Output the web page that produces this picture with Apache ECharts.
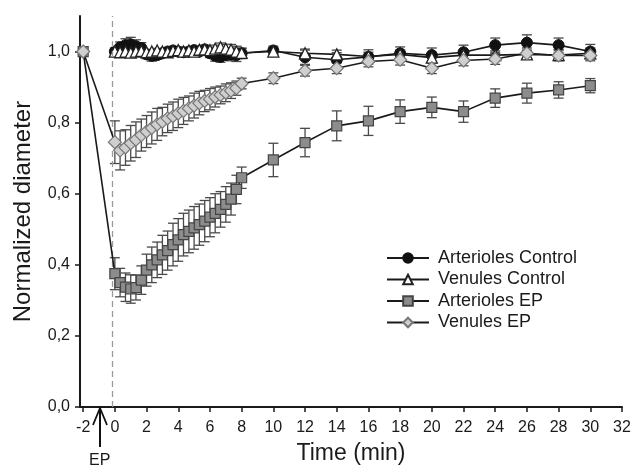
<!DOCTYPE html>
<html>
<head>
<meta charset="utf-8">
<script src="https://cdn.jsdelivr.net/npm/echarts@6/dist/echarts.min.js"></script>
<style>
html,body{margin:0;padding:0;background:#fff;}
#chart{width:634px;height:471px;}
</style>
</head>
<body>
<div id="chart"></div>
<script>
// ---- data ----
const times = [0,0.33,0.67,1,1.33,1.67,2,2.33,2.67,3,3.33,3.67,4,4.33,4.67,5,5.33,5.67,6,6.33,6.67,7,7.33,7.67,8,10,12,14,16,18,20,22,24,26,28,30];
const baselineTime = -2;
const baselineValue = 1.0;

const arteriolesControl = [1.0,1.012,1.018,1.02,1.015,1.01,0.992,0.988,0.99,0.995,1.0,1.003,1.0,0.998,1.0,1.004,1.0,1.006,0.995,0.988,0.985,0.99,0.992,0.99,0.995,1.003,0.984,0.977,0.985,0.995,0.99,0.998,1.018,1.025,1.018,1.0];
const arteriolesControlErr = [0.01,0.015,0.018,0.02,0.018,0.015,0.012,0.015,0.012,0.01,0.01,0.01,0.012,0.01,0.01,0.01,0.01,0.012,0.012,0.015,0.015,0.012,0.018,0.018,0.015,0.012,0.02,0.02,0.02,0.018,0.02,0.02,0.02,0.022,0.02,0.02];

const venulesControl = [1.0,0.998,1.0,0.997,1.0,1.002,0.998,1.0,1.003,1.0,0.998,1.002,1.004,1.0,1.003,1.0,1.005,1.006,1.004,1.008,1.012,1.008,1.005,1.0,0.996,1.0,0.995,0.992,0.986,0.992,0.983,0.99,0.99,0.992,0.99,0.995];
const venulesControlErr = [0.006,0.006,0.006,0.006,0.006,0.006,0.006,0.006,0.006,0.006,0.006,0.007,0.007,0.007,0.007,0.008,0.008,0.008,0.008,0.01,0.012,0.012,0.015,0.015,0.012,0.01,0.012,0.012,0.012,0.012,0.012,0.012,0.012,0.012,0.015,0.015];

const arteriolesEP = [0.375,0.35,0.337,0.332,0.336,0.357,0.385,0.4,0.414,0.428,0.44,0.457,0.47,0.485,0.494,0.504,0.513,0.523,0.534,0.545,0.556,0.57,0.585,0.612,0.645,0.695,0.744,0.791,0.805,0.831,0.843,0.831,0.869,0.883,0.892,0.904];
const arteriolesEPErr = [0.045,0.04,0.04,0.04,0.035,0.04,0.045,0.05,0.05,0.055,0.055,0.06,0.06,0.06,0.06,0.06,0.058,0.058,0.055,0.055,0.05,0.05,0.045,0.04,0.03,0.047,0.04,0.042,0.041,0.033,0.029,0.03,0.026,0.028,0.023,0.02];

const venulesEP = [0.745,0.722,0.73,0.742,0.752,0.765,0.775,0.785,0.795,0.803,0.812,0.818,0.826,0.833,0.84,0.848,0.855,0.861,0.866,0.872,0.878,0.884,0.89,0.897,0.91,0.925,0.946,0.953,0.972,0.977,0.953,0.975,0.979,0.995,0.989,0.989];
const venulesEPErr = [0.06,0.055,0.05,0.05,0.05,0.045,0.045,0.045,0.045,0.04,0.04,0.04,0.04,0.038,0.035,0.035,0.033,0.03,0.03,0.028,0.025,0.025,0.022,0.02,0.015,0.015,0.015,0.015,0.015,0.015,0.015,0.015,0.015,0.015,0.015,0.015];

const xTicks = [-2,0,2,4,6,8,10,12,14,16,18,20,22,24,26,28,30,32];
const yTicks = [0,0.2,0.4,0.6,0.8,1.0];
const epLineTime = -0.15;

// ---- helpers ----
function pairs(vals, withBaseline){
  const d = times.map((t,i)=>[t, vals[i]]);
  if (withBaseline) d.unshift([baselineTime, baselineValue]);
  return d;
}
function errData(vals, errs){
  return times.map((t,i)=>[t, vals[i]-errs[i], vals[i]+errs[i]]);
}
function errSeries(vals, errs){
  return {
    type:'custom', silent:true, z:1,
    data: errData(vals, errs),
    encode:{x:0, y:[1,2]},
    renderItem: function(params, api){
      const x = api.value(0), lo = api.value(1), hi = api.value(2);
      const top = api.coord([x, hi]), bot = api.coord([x, lo]);
      const w = 5;
      const st = {stroke:'#4a4a4a', lineWidth:1.3};
      return {type:'group', children:[
        {type:'line', shape:{x1:top[0],y1:top[1],x2:bot[0],y2:bot[1]}, style:st},
        {type:'line', shape:{x1:top[0]-w,y1:top[1],x2:top[0]+w,y2:top[1]}, style:st},
        {type:'line', shape:{x1:bot[0]-w,y1:bot[1],x2:bot[0]+w,y2:bot[1]}, style:st}
      ]};
    }
  };
}
const fmt = v => v.toFixed(1).replace('.', ',');
const font = 'Liberation Sans, Arial, sans-serif';

const chart = echarts.init(document.getElementById('chart'), null, {renderer:'canvas'});
chart.setOption({
  animation:false,
  backgroundColor:'#fff',
  textStyle:{fontFamily:font},
  grid:{left:80, right:12, top:16, bottom:64, containLabel:false},
  legend:{
    orient:'vertical', left:381, top:244,
    itemWidth:42, itemHeight:12, itemGap:3.5,
    textStyle:{fontSize:18, lineHeight:18, color:'#1a1a1a', fontFamily:font, padding:[0,0,0,4]},
    data:['Arterioles Control','Venules Control','Arterioles EP','Venules EP']
  },
  xAxis:{
    type:'value', min:-2.2, max:32,
    name:'Time (min)', nameLocation:'middle', nameGap:35,
    nameTextStyle:{fontSize:23, color:'#1a1a1a', fontFamily:font},
    axisLine:{onZero:false, lineStyle:{color:'#1a1a1a', width:2}},
    axisTick:{show:true, length:5, inside:false, customValues:xTicks, lineStyle:{color:'#1a1a1a', width:1.5}},
    axisLabel:{customValues:xTicks, fontSize:16, color:'#1a1a1a', margin:13, fontFamily:font},
    splitLine:{show:false}
  },
  yAxis:{
    type:'value', min:0, max:1.1,
    name:'Normalized diameter', nameLocation:'middle', nameGap:45,
    nameTextStyle:{fontSize:24, color:'#1a1a1a', fontFamily:font},
    axisLine:{onZero:false, lineStyle:{color:'#1a1a1a', width:2}},
    axisTick:{show:true, length:5, inside:false, customValues:yTicks, lineStyle:{color:'#1a1a1a', width:1.5}},
    axisLabel:{customValues:yTicks, formatter:fmt, fontSize:16, color:'#1a1a1a', margin:10, fontFamily:font},
    splitLine:{show:false}
  },
  graphic:[
    {type:'polyline', shape:{points:[[93,425],[100,408],[107,425]]}, style:{stroke:'#111', lineWidth:1.8, fill:null}, z:100},
    {type:'line', shape:{x1:100,y1:409,x2:100,y2:447}, style:{stroke:'#111', lineWidth:2}, z:100},
    {type:'text', left:89, top:453, style:{text:'EP', fontSize:16, fill:'#1a1a1a', fontFamily:font}, z:100}
  ],
  series:[
    errSeries(arteriolesControl, arteriolesControlErr),
    errSeries(venulesControl, venulesControlErr),
    errSeries(arteriolesEP, arteriolesEPErr),
    errSeries(venulesEP, venulesEPErr),
    {
      name:'Arterioles Control', type:'line', z:3,
      data:pairs(arteriolesControl,false),
      symbol:'circle', symbolSize:11,
      lineStyle:{color:'#1a1a1a', width:1.6},
      itemStyle:{color:'#111', borderColor:'#111', borderWidth:1},
      markLine:{
        silent:true, symbol:'none', label:{show:false},
        lineStyle:{type:[6,4], color:'#9a9a9a', width:1.3},
        data:[{xAxis:epLineTime}]
      }
    },
    {
      name:'Venules Control', type:'line', z:4,
      data:pairs(venulesControl,false),
      symbol:'triangle', symbolSize:11,
      lineStyle:{color:'#1a1a1a', width:1.6},
      itemStyle:{color:'#fff', borderColor:'#222', borderWidth:1.3}
    },
    {
      name:'Arterioles EP', type:'line', z:5,
      data:pairs(arteriolesEP,true),
      symbol:'rect', symbolSize:10,
      lineStyle:{color:'#1a1a1a', width:1.6},
      itemStyle:{color:'#8c8c8c', borderColor:'#444', borderWidth:1.2}
    },
    {
      name:'Venules EP', type:'line', z:6,
      data:pairs(venulesEP,true),
      symbol:'diamond', symbolSize:13,
      lineStyle:{color:'#1a1a1a', width:1.6},
      itemStyle:{color:'#cfcfcf', borderColor:'#777', borderWidth:1.2}
    }
  ]
});
</script>
</body>
</html>
